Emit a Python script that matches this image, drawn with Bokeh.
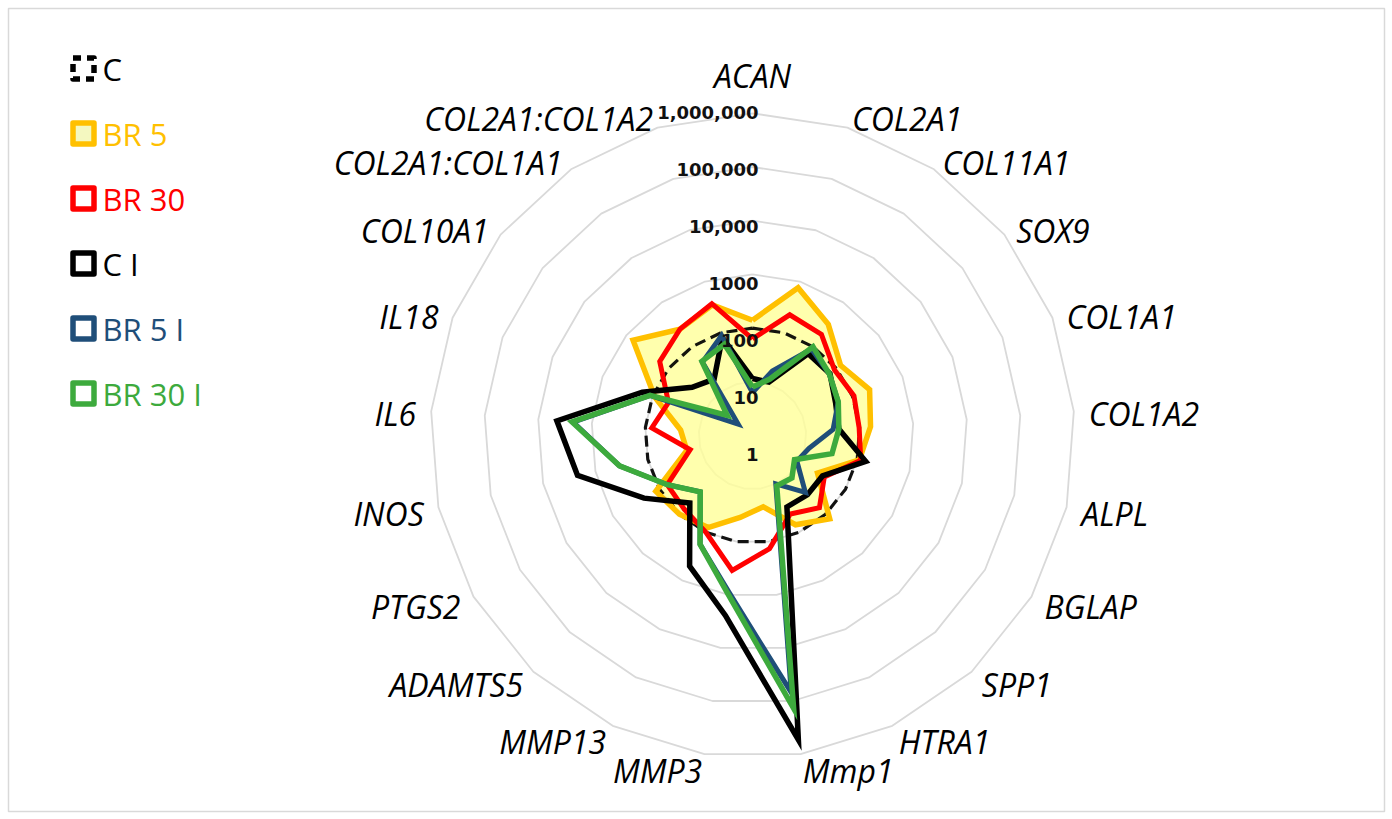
import numpy as np
from bokeh.plotting import figure
from bokeh.models import Range1d
from bokeh.core.properties import value
from bokeh.embed import file_html
from bokeh.resources import INLINE

# ---------------- data ----------------
categories = ["ACAN", "COL2A1", "COL11A1", "SOX9", "COL1A1", "COL1A2", "ALPL",
              "BGLAP", "SPP1", "HTRA1", "Mmp1", "MMP3", "MMP13", "ADAMTS5",
              "PTGS2", "INOS", "IL6", "IL18", "COL10A1", "COL2A1:COL1A1",
              "COL2A1:COL1A2"]

c_vals = [100] * 21
br5_vals = [140, 760, 320, 125, 220, 160, 110, 25, 130, 70, 22, 35, 80, 100,
            120, 18, 22, 90, 700, 250, 350]
br30_vals = [63, 225, 190, 90, 107, 98, 117, 35, 68, 42, 135, 347, 100, 74,
             68, 15.5, 76, 48, 162, 250, 370]
ci_vals = [11.5, 11, 70, 70, 46, 41, 145, 32, 32, 30, 537000, 2450, 500, 52,
           215, 2200, 4500, 160, 27.5, 18.6, 81]
br5i_vals = [6.3, 18, 89, 68, 52, 32, 12, 9, 28, 10, 69000, 890, 178, 27,
             68, 347, 2240, 112, 2.2, 45, 89]
br30i_vals = [8, 12.6, 100, 68, 52, 41, 33, 8, 12, 11, 138000, 1000, 178, 27,
              68, 347, 2350, 112, 4, 47, 60]

ring_values = [10, 100, 1000, 10000, 100000, 1000000]
tick_values = [1, 10, 100, 1000, 10000, 100000, 1000000]
tick_labels = ["1", "10", "100", "1000", "10,000", "100,000", "1,000,000"]

series_names = ["C", "BR 5", "BR 30", "C I", "BR 5 I", "BR 30 I"]
series_colors = ["#000000", "#FFC000", "#FF0000", "#000000", "#1F4E79", "#3DAA3D"]

# ---------------- layout helpers ----------------
S = 53.7            # pixels per decade
CX, CY = 752, 435   # centre of the radar on the page
FW, FH, OFF = 1376, 803, 8   # frame size and its offset on the page


def X(px):
    return (px - CX) / S


def Y(py):
    return (CY - py) / S


n = len(categories)
theta = 2 * np.pi * np.arange(n) / n


def polar(vals, closed=True):
    r = np.log10(np.asarray(vals, dtype=float))
    xs = r * np.sin(theta)
    ys = r * np.cos(theta)
    if closed:
        xs = np.append(xs, xs[0])
        ys = np.append(ys, ys[0])
    return xs, ys


p = figure(width=FW + OFF + 6, height=FH + OFF + 6, output_backend="svg",
           toolbar_location=None,
           x_range=Range1d(X(OFF), X(OFF + FW)), y_range=Range1d(Y(OFF + FH), Y(OFF)),
           min_border_left=OFF, min_border_top=OFF, min_border_right=6,
           min_border_bottom=6)
p.axis.visible = False
p.grid.visible = False
p.outline_line_color = "#D9D9D9"
p.outline_line_width = 1.5
p.background_fill_color = "white"
p.border_fill_color = "white"

# grid rings
for rv in ring_values:
    xs, ys = polar([rv] * n)
    p.line(xs, ys, line_color="#D9D9D9", line_width=1.8)

# BR 5 filled area
xs5, ys5 = polar(br5_vals)
p.patch(xs5, ys5, fill_color="#FFFF99", fill_alpha=0.8, line_color=None)

# C (dashed)
xs, ys = polar(c_vals)
p.line(xs, ys, line_color="#000000", line_alpha=0.92, line_width=3.2,
       line_dash="11 6")

p.line(xs5, ys5, line_color="#FFC000", line_width=5.5, line_join="miter")

for vals, col, lw in [(br30_vals, "#FF0000", 5), (ci_vals, "#000000", 5.5),
                      (br5i_vals, "#1F4E79", 5), (br30i_vals, "#3DAA3D", 5.5)]:
    xs, ys = polar(vals)
    p.line(xs, ys, line_color=col, line_width=lw, line_join="miter")

# value-axis labels
lv = np.log10(tick_values)
p.text(x=[X(758)] * len(tick_values), y=list(lv * 1.063 - 0.354), text=tick_labels,
       text_font=value("DejaVu Sans"), text_font_style="bold", text_font_size="18px",
       text_color="#111111", text_align="right", text_baseline="middle")

# category labels
r_lab = 6 + 15 / S
lx = r_lab * np.sin(theta)
ly = r_lab * np.cos(theta) - (3.5 + 2.0 * np.cos(theta)) / S
groups = {"center": [0], "left": list(range(1, 11)), "right": list(range(11, 21))}
for align, idx in groups.items():
    p.text(x=[lx[i] for i in idx],
           y=[ly[i] + (7 / S if align == "center" else 0) for i in idx],
           text=[categories[i] for i in idx],
           text_font=value("Open Sans"), text_font_style="italic",
           text_font_size="32px", text_color="#000000", text_align=align,
           text_baseline="bottom" if align == "center" else "middle")

# legend
leg_y = [68 + 65 * i for i in range(len(series_names))]
for i, (name, col) in enumerate(zip(series_names, series_colors)):
    fill = "#F4F8C0" if name == "BR 5" else "white"
    dash = "8 6" if name == "C" else "solid"
    p.rect(x=[X(83)], y=[Y(leg_y[i])], width=21, height=21, width_units="screen",
           height_units="screen", fill_color=fill, line_color=col, line_width=5.5,
           line_dash=dash, line_join="round")
    p.text(x=[X(102)], y=[Y(leg_y[i])], text=[name], text_font=value("Open Sans"),
           text_font_size="31px", text_color=col, text_align="left",
           text_baseline="middle")

open("out.html", "w").write(file_html(p, INLINE))
